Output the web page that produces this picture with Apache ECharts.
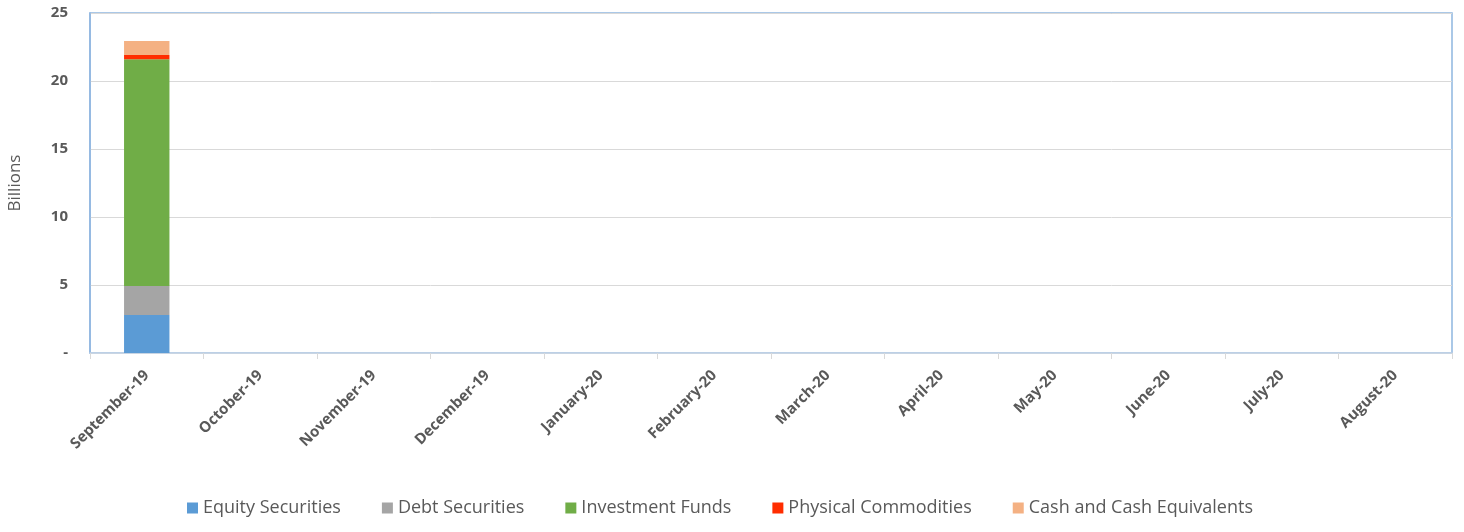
<!DOCTYPE html>
<html><head><meta charset="utf-8">
<script src="https://cdn.jsdelivr.net/npm/echarts@6/dist/echarts.min.js"></script>
<style>html,body{margin:0;padding:0;background:#fff}#c{width:1464px;height:532px}</style>
</head><body><div id="c"></div>
<script>
const categories = ['September-19','October-19','November-19','December-19','January-20','February-20','March-20','April-20','May-20','June-20','July-20','August-20'];
const equity = [2.79,0,0,0,0,0,0,0,0,0,0,0];
const debt = [2.14,0,0,0,0,0,0,0,0,0,0,0];
const funds = [16.67,0,0,0,0,0,0,0,0,0,0,0];
const commodities = [0.31,0,0,0,0,0,0,0,0,0,0,0];
const cash = [1.03,0,0,0,0,0,0,0,0,0,0,0];
const yTicks = [0,5,10,15,20,25];

const font = '"Open Sans", "Noto Sans", sans-serif';
const chart = echarts.init(document.getElementById('c'));
function s(name, data, color){
  return {name, type:'bar', stack:'a', data, barWidth:'40%', itemStyle:{color}, emphasis:{disabled:true}};
}
chart.setOption({
  animation:false,
  grid:{left:90,right:12,top:13,bottom:179,show:true,borderColor:'#8fb6e0',borderWidth:1.5,outerBoundsMode:'none',containLabel:false},
  legend:{bottom:10,left:182,itemWidth:11,itemHeight:11,itemGap:41,icon:'rect',
    textStyle:{color:'#595959',fontSize:18,fontFamily:font},
    data:['Equity Securities','Debt Securities','Investment Funds','Physical Commodities','Cash and Cash Equivalents']},
  xAxis:{type:'category',data:categories,
    axisLine:{lineStyle:{color:'#c3d3e6',width:1.5}},
    axisTick:{show:true,length:6,lineStyle:{color:'#d9d9d9'}},
    axisLabel:{rotate:45,color:'#595959',fontWeight:'bold',fontSize:15,fontFamily:font,margin:20,interval:0}},
  yAxis:{type:'value',min:0,max:25,interval:5,
    name:'Billions',nameLocation:'middle',nameGap:66,nameRotate:90,
    nameTextStyle:{color:'#595959',fontSize:17,fontFamily:font},
    axisLine:{show:true,lineStyle:{color:'#8fb6e0',width:1.5}},
    axisTick:{show:false},
    splitLine:{lineStyle:{color:'#d9d9d9'}},
    axisLabel:{color:'#595959',fontWeight:'bold',fontSize:15,fontFamily:font,margin:22,
      formatter:v=> yTicks.includes(v) ? (v===0?'-':String(v)) : ''}},
  series:[
    s('Equity Securities',equity,'#5b9bd5'),
    s('Debt Securities',debt,'#a5a5a5'),
    s('Investment Funds',funds,'#70ad47'),
    s('Physical Commodities',commodities,'#ff2d00'),
    s('Cash and Cash Equivalents',cash,'#f4b183')
  ]
});
</script></body></html>
